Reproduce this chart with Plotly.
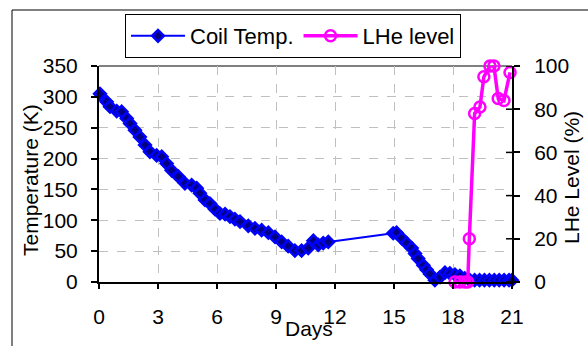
import plotly.graph_objects as go

coil_days = [0.05, 0.39, 0.56, 0.9, 1.15, 1.41, 1.58, 1.83, 2.08, 2.34, 2.59, 2.93, 3.19, 3.44, 3.69,
             4.03, 4.37, 4.71, 4.97, 5.13, 5.39, 5.64, 5.9, 6.15, 6.41, 6.66, 6.91, 7.17, 7.59, 7.93,
             8.27, 8.61, 8.95, 9.29, 9.62, 9.96, 10.3, 10.64, 10.9, 11.15, 11.4, 11.66,
             14.96, 15.13, 15.39, 15.64, 15.9, 16.07, 16.23, 16.49, 16.66, 16.83, 17.08, 17.34, 17.59,
             17.84, 18.1, 18.35, 18.6, 18.86, 19.1, 19.35, 19.6, 19.85, 20.1, 20.35, 20.6, 20.85, 21.0]
coil_temp = [305, 292, 284, 277, 276, 265, 257, 246, 235, 222, 211, 205, 203, 192, 181,
             171, 160, 157, 152, 144, 133, 127, 118, 111, 110, 106, 102, 98, 91, 87,
             84, 80, 73, 65, 58, 51, 51, 55, 67, 60, 63, 65,
             79, 80, 71, 63, 55, 46, 38, 27, 20, 13, 3, 8, 15,
             14, 12, 10, 6, 3, 3, 3, 3, 3, 3, 3, 3, 3, 3]

lhe_days = [18.1, 18.35, 18.6, 18.75, 18.83, 19.1, 19.37, 19.57, 19.88, 20.08, 20.3, 20.59, 20.9]
lhe_level = [0, 0, 0, 0, 20, 78, 81, 95, 100, 100, 85, 84, 97]

x_ticks = [0, 3, 6, 9, 12, 15, 18, 21]

FONT = "Liberation Sans, Arial, sans-serif"
FS = 21

fig = go.Figure()
fig.add_trace(go.Scatter(
    x=coil_days, y=coil_temp, name="Coil Temp.", mode="lines+markers",
    line=dict(color="#0000FF", width=2),
    marker=dict(symbol="diamond", size=9, color="#000080", line=dict(color="#0000FF", width=2.5)),
    cliponaxis=False, yaxis="y"))
fig.add_trace(go.Scatter(
    x=lhe_days, y=lhe_level, name="LHe level", mode="lines+markers",
    line=dict(color="#FF00FF", width=3.5),
    marker=dict(symbol="circle-open", size=11, color="#FF00FF", line=dict(color="#FF00FF", width=2.5)),
    cliponaxis=False, yaxis="y2"))

W, H = 588, 346
L, R, T, B = 99, 76, 66, 64
pw, ph = W - L - R, H - T - B

def px(x):
    return (x - L) / pw

def py(y):
    return (H - B - y) / ph

fig.update_layout(
    width=W, height=H,
    margin=dict(l=L, r=R, t=T, b=B, pad=0),
    paper_bgcolor="white", plot_bgcolor="white",
    font=dict(family=FONT, size=FS, color="black"),
    showlegend=True,
    legend=dict(orientation="h", x=px(125), y=py(14), xanchor="left", yanchor="top",
                bordercolor="black", borderwidth=1, bgcolor="white",
                font=dict(family=FONT, size=22), itemwidth=54,
                tracegroupgap=0),
    xaxis=dict(range=[0, 21], tickvals=x_ticks, showgrid=True, gridcolor="#c0c0c0", griddash="dash",
               gridwidth=1, showline=True, linecolor="black", linewidth=2, ticks="outside",
               ticklen=5, tickcolor="black", tickwidth=1.5, zeroline=False, ticklabelstandoff=10,
               tickfont=dict(size=FS)),
    yaxis=dict(range=[0, 350], dtick=50, showgrid=True, gridcolor="#c0c0c0", griddash="dash",
               gridwidth=1, showline=True, linecolor="black", linewidth=2, ticks="outside",
               ticklen=6, tickcolor="black", tickwidth=1.5, zeroline=False, ticklabelstandoff=9,
               tickfont=dict(size=FS)),
    yaxis2=dict(range=[0, 100], dtick=20, overlaying="y", side="right", showgrid=False,
                showline=True, linecolor="black", linewidth=2, ticks="outside", ticklen=6,
                tickcolor="black", tickwidth=1.5, zeroline=False, ticklabelstandoff=10,
                tickfont=dict(size=FS)),
    shapes=[
        dict(type="line", xref="paper", yref="paper", x0=0, x1=1, y0=1, y1=1,
             line=dict(color="#808080", width=2), layer="below"),
        dict(type="rect", xref="paper", yref="paper", x0=px(12), x1=px(600), y0=py(360), y1=py(10),
             line=dict(color="black", width=1), fillcolor="rgba(0,0,0,0)"),
    ] + [
        dict(type="line", xref="paper", yref="y2", x0=1, x1=px(512 - 6), y0=v, y1=v,
             line=dict(color="black", width=1.5))
        for v in range(0, 101, 20)
    ],
    annotations=[
        dict(text="Days", xref="x", yref="paper", x=(309 - L) / pw * 21, y=py(328),
             xanchor="center", yanchor="middle", showarrow=False, font=dict(size=FS)),
        dict(text="Temperature (K)", xref="paper", yref="paper", x=px(30), y=py(180),
             xanchor="center", yanchor="middle", textangle=-90, showarrow=False, font=dict(size=FS)),
        dict(text="LHe Level (%)", xref="paper", yref="paper", x=px(571), y=py(178),
             xanchor="center", yanchor="middle", textangle=-90, showarrow=False, font=dict(size=FS)),
    ],
)

fig.write_html("out.html")
